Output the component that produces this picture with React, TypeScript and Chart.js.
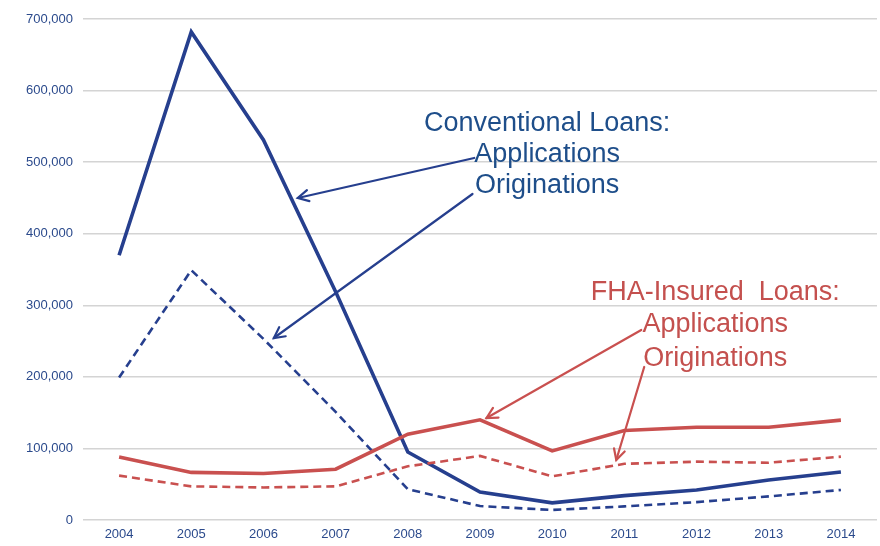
import React, { useEffect, useRef } from "react";
import { Chart, registerables } from "chart.js";

Chart.register(...registerables);

const years = ["2004", "2005", "2006", "2007", "2008", "2009", "2010", "2011", "2012", "2013", "2014"];
const conventionalApplications = [370000, 682000, 531000, 319000, 95000, 39000, 24000, 34000, 42000, 56000, 67000];
const conventionalOriginations = [199000, 349000, 253000, 151000, 43000, 19500, 14000, 19000, 25000, 33000, 42000];
const fhaApplications = [88000, 66500, 65000, 71000, 120000, 140000, 96500, 125000, 129500, 129500, 139500];
const fhaOriginations = [62000, 47000, 45500, 47000, 75000, 89500, 61000, 78500, 81500, 80000, 88500];

const yTicksMax = 700000;
const yTicksStep = 100000;

const BLUE = "#263F8E";
const BLUE_TEXT = "#1E4E8A";
const RED = "#C9504F";
const RED_TEXT = "#C4504E";

// annotation texts placed in data space (x = category index, y = value)
const annotationTexts = [
  { text: "Conventional Loans:", x: 5.93, y: 557000, color: BLUE_TEXT },
  { text: "Applications", x: 5.93, y: 514000, color: BLUE_TEXT },
  { text: "Originations", x: 5.93, y: 469500, color: BLUE_TEXT },
  { text: "FHA-Insured  Loans:", x: 8.26, y: 320000, color: RED_TEXT },
  { text: "Applications", x: 8.26, y: 276600, color: RED_TEXT },
  { text: "Originations", x: 8.26, y: 229000, color: RED_TEXT },
];

const annotationArrows = [
  { x1: 4.92, y1: 505800, x2: 2.476, y2: 449900, color: BLUE },
  { x1: 4.896, y1: 455500, x2: 2.144, y2: 254300, color: BLUE },
  { x1: 7.234, y1: 265500, x2: 5.09, y2: 142500, color: RED },
  { x1: 7.275, y1: 213800, x2: 6.888, y2: 83800, color: RED },
];

const annotationPlugin = {
  id: "annotations",
  afterDatasetsDraw(chart: any) {
    const ctx = chart.ctx as CanvasRenderingContext2D;
    const xs = chart.scales.x;
    const ys = chart.scales.y;
    ctx.save();
    for (const a of annotationArrows) {
      const px1 = xs.getPixelForValue(a.x1);
      const py1 = ys.getPixelForValue(a.y1);
      const px2 = xs.getPixelForValue(a.x2);
      const py2 = ys.getPixelForValue(a.y2);
      ctx.strokeStyle = a.color;
      ctx.lineWidth = 2.2;
      ctx.lineCap = "round";
      ctx.beginPath();
      ctx.moveTo(px1, py1);
      ctx.lineTo(px2, py2);
      ctx.stroke();
      const ang = Math.atan2(py1 - py2, px1 - px2);
      const L = 12;
      const spread = Math.PI / 6.5;
      ctx.beginPath();
      ctx.moveTo(px2 + L * Math.cos(ang + spread), py2 + L * Math.sin(ang + spread));
      ctx.lineTo(px2, py2);
      ctx.lineTo(px2 + L * Math.cos(ang - spread), py2 + L * Math.sin(ang - spread));
      ctx.stroke();
    }
    ctx.font = "27px 'Liberation Sans', Arial, Helvetica, sans-serif";
    ctx.textAlign = "center";
    ctx.textBaseline = "alphabetic";
    for (const t of annotationTexts) {
      const px = xs.getPixelForValue(t.x);
      const py = ys.getPixelForValue(t.y);
      ctx.fillStyle = t.color;
      ctx.fillText(t.text, px, py + 9.5);
    }
    ctx.restore();
  },
};

export default function App() {
  const ref = useRef<HTMLCanvasElement>(null);

  useEffect(() => {
    document.body.style.margin = "0";
    const canvas = ref.current;
    if (!canvas) return;
    const chart = new Chart(canvas, {
      type: "line",
      data: {
        labels: years,
        datasets: [
          {
            label: "FHA Originations",
            data: fhaOriginations,
            borderColor: RED,
            borderWidth: 2.6,
            borderDash: [8, 5],
            pointRadius: 0,
            tension: 0,
            fill: false,
          },
          {
            label: "FHA Applications",
            data: fhaApplications,
            borderColor: RED,
            borderWidth: 3.6,
            pointRadius: 0,
            tension: 0,
            fill: false,
          },
          {
            label: "Conventional Originations",
            data: conventionalOriginations,
            borderColor: BLUE,
            borderWidth: 2.6,
            borderDash: [8, 5],
            pointRadius: 0,
            tension: 0,
            fill: false,
          },
          {
            label: "Conventional Applications",
            data: conventionalApplications,
            borderColor: BLUE,
            borderWidth: 3.6,
            pointRadius: 0,
            tension: 0,
            fill: false,
          },
        ],
      },
      options: {
        responsive: false,
        animation: false,
        layout: { padding: { top: 19, right: 3, left: 0, bottom: 0 } },
        plugins: {
          legend: { display: false },
          tooltip: { enabled: false },
        },
        scales: {
          x: {
            offset: true,
            grid: { display: false, drawTicks: false },
            border: { display: false },
            ticks: {
              color: "#2B4A8C",
              font: { family: "'Liberation Sans', Arial, sans-serif", size: 13 },
              padding: 7,
              maxRotation: 0,
            },
            afterFit: (s: any) => {
              s.height = 26;
            },
          },
          y: {
            min: 0,
            max: yTicksMax,
            grid: { color: "#d4d4d4", lineWidth: 1.5, drawTicks: false },
            border: { display: false },
            ticks: {
              stepSize: yTicksStep,
              color: "#2B4A8C",
              font: { family: "'Liberation Sans', Arial, sans-serif", size: 13 },
              padding: 10,
              callback: (v: any) => Number(v).toLocaleString("en-US"),
            },
            afterFit: (s: any) => {
              s.width = 83;
            },
          },
        },
      },
      plugins: [annotationPlugin],
    });
    return () => chart.destroy();
  }, []);

  return (
    <div style={{ position: "absolute", left: 0, top: 0, width: 880, height: 546, background: "#fff" }}>
      <canvas ref={ref} width={880} height={546} style={{ display: "block" }} />
    </div>
  );
}
